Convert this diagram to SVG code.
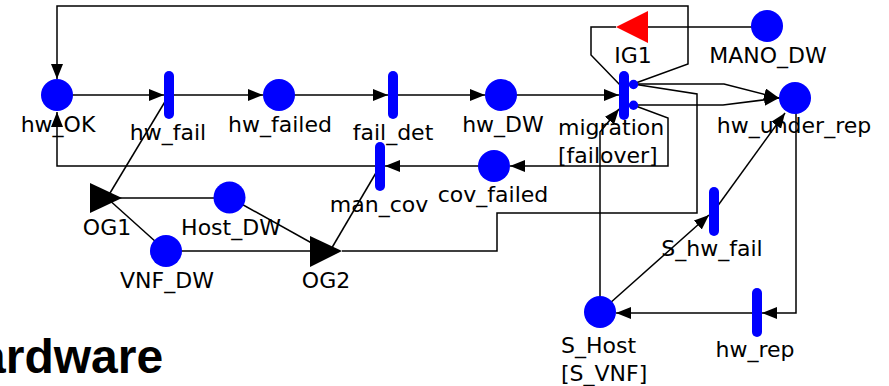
<svg xmlns="http://www.w3.org/2000/svg" width="889" height="386" viewBox="0 0 889 386">
<style>
.c{fill:none;stroke:#000;stroke-width:1.5}
.p{fill:#0000ff}
.t{fill:#0000ff}
.lb{font-family:"DejaVu Sans",sans-serif;font-size:22px;fill:#000;text-anchor:middle}
.ls{font-family:"DejaVu Sans",sans-serif;font-size:22px;fill:#000;text-anchor:start}
.og{fill:#000}
.ig{fill:#ff0000}
</style>
<defs>
<marker id="ah" markerUnits="userSpaceOnUse" markerWidth="15" markerHeight="12" refX="15" refY="6" orient="auto">
<path d="M0,0 L15,6 L0,12 z" fill="#000"/>
</marker>
</defs>
<rect width="889" height="386" fill="#fff"/>
<g id="connectors">
<path class="c" d="M57,95 H164" marker-end="url(#ah)"/>
<path class="c" d="M169,95 H263" marker-end="url(#ah)"/>
<path class="c" d="M279,95 H388" marker-end="url(#ah)"/>
<path class="c" d="M393,95 H485" marker-end="url(#ah)"/>
<path class="c" d="M501,95 H619" marker-end="url(#ah)"/>
<path class="c" d="M633,84 L688,64 V6 H57 V79" marker-end="url(#ah)"/>
<path class="c" d="M767,27 H648"/>
<path class="c" d="M616,27 H591 V55 L621,86"/>
<path class="c" d="M633,84 H724 L779,98" marker-end="url(#ah)"/>
<path class="c" d="M633,105 H723 L779,98" marker-end="url(#ah)"/>
<path class="c" d="M633,84 L697,94 V213 H497 V251 H342"/>
<path class="c" d="M633,105 L668,118 V166 H510" marker-end="url(#ah)"/>
<path class="c" d="M494,166 H385" marker-end="url(#ah)"/>
<path class="c" d="M380,166 H57 V112" marker-end="url(#ah)"/>
<path class="c" d="M169,95 L107,198"/>
<path class="c" d="M107,198 H229"/>
<path class="c" d="M107,198 L166,251"/>
<path class="c" d="M229,197 L326,251"/>
<path class="c" d="M166,251 H310"/>
<path class="c" d="M380,166 L330,251"/>
<path class="c" d="M600,312 V132 L619,109" marker-end="url(#ah)"/>
<path class="c" d="M600,312 L709,215" marker-end="url(#ah)"/>
<path class="c" d="M714,211 L785,113" marker-end="url(#ah)"/>
<path class="c" d="M796,98 V313 H762" marker-end="url(#ah)"/>
<path class="c" d="M757,313 H616" marker-end="url(#ah)"/>
</g>
<g id="hw_OK"><circle class="p" cx="57" cy="95" r="16"/><text class="lb" x="58" y="132">hw_OK</text></g>
<g id="hw_fail"><rect class="t" x="164" y="71" width="10" height="48" rx="5"/><text class="lb" x="168" y="140">hw_fail</text></g>
<g id="hw_failed"><circle class="p" cx="279" cy="95" r="16"/><text class="lb" x="280" y="132">hw_failed</text></g>
<g id="fail_det"><rect class="t" x="388" y="71" width="10" height="48" rx="5"/><text class="lb" x="393" y="140">fail_det</text></g>
<g id="hw_DW"><circle class="p" cx="501" cy="95" r="16"/><text class="lb" x="503" y="132">hw_DW</text></g>
<g id="migration"><rect class="t" x="619" y="71" width="10" height="49" rx="5"/><circle class="t" cx="633.5" cy="84.5" r="4.7"/><circle class="t" cx="633.5" cy="105.3" r="4.7"/><text class="ls" x="558" y="135">migration</text><text class="ls" x="558" y="163">[failover]</text></g>
<g id="cov_failed"><circle class="p" cx="494" cy="166" r="16"/><text class="lb" x="493" y="202">cov_failed</text></g>
<g id="man_cov"><rect class="t" x="375" y="142" width="10" height="49" rx="5"/><text class="lb" x="379" y="212">man_cov</text></g>
<g id="IG1"><polygon class="ig" points="616,27 648,11 648,43"/><text class="lb" x="633" y="63">IG1</text></g>
<g id="MANO_DW"><circle class="p" cx="767" cy="26" r="16"/><text class="lb" x="768" y="63">MANO_DW</text></g>
<g id="hw_under_rep"><circle class="p" cx="795" cy="98" r="16"/><text class="lb" x="794" y="133">hw_under_rep</text></g>
<g id="OG1"><polygon class="og" points="90,183 90,213 122,198"/><text class="lb" x="107" y="235">OG1</text></g>
<g id="Host_DW"><circle class="p" cx="229.5" cy="197.5" r="16"/><text class="lb" x="231" y="235">Host_DW</text></g>
<g id="VNF_DW"><circle class="p" cx="166" cy="251" r="16"/><text class="lb" x="167" y="288">VNF_DW</text></g>
<g id="OG2"><polygon class="og" points="310,236 310,267 342,251"/><text class="lb" x="326" y="288">OG2</text></g>
<g id="S_hw_fail"><rect class="t" x="709" y="187" width="10" height="49" rx="5"/><text class="lb" x="712" y="256">S_hw_fail</text></g>
<g id="S_Host"><circle class="p" cx="600" cy="312" r="16"/><text class="ls" x="561" y="353">S_Host</text><text class="ls" x="561" y="381">[S_VNF]</text></g>
<g id="hw_rep"><rect class="t" x="752" y="288" width="10" height="49" rx="5"/><text class="lb" x="755" y="357">hw_rep</text></g>
<text x="-21" y="373" font-family="'Liberation Sans',Arial,sans-serif" font-weight="bold" font-size="48" fill="#000">ardware</text>
</svg>
